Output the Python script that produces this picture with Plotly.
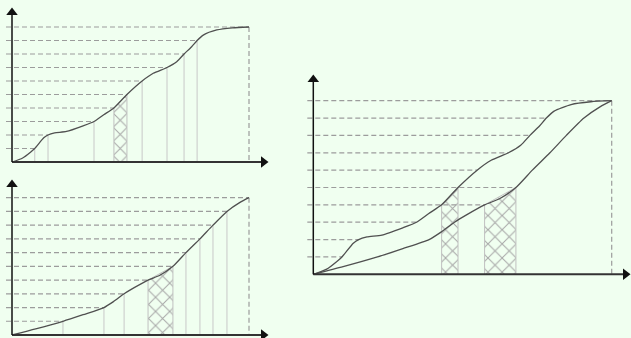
import plotly.graph_objects as go

# ---------------- data ----------------
levels = [0.1, 0.2, 0.3, 0.4, 0.5, 0.6, 0.7, 0.8, 0.9, 1.0]

# distribution A (top-left panel, upper curve on the right panel)
curve_a_x = [0, 4.5, 7.8, 9.6, 13.4, 15.2, 18, 23, 30, 34.6, 38.7, 43, 48.5, 54.9,
             59.6, 65.4, 69.5, 72.6, 75.8, 78.1, 80.7, 86.4, 93, 100]
curve_a_y = [0, 0.03, 0.073, 0.1, 0.179, 0.2, 0.215, 0.226, 0.268, 0.3, 0.35, 0.4, 0.5, 0.6,
             0.657, 0.7, 0.743, 0.8, 0.854, 0.9, 0.94, 0.978, 0.994, 1.0]
quant_a = [9.6, 15.2, 34.6, 43.0, 48.5, 54.9, 65.4, 72.6, 78.1, 100]

# distribution B (bottom-left panel, lower curve on the right panel)
curve_b_x = [0, 10, 21.5, 30, 38.8, 42.8, 47.3, 51.2, 57.4, 62.4, 67.9, 73.4, 79.3,
             84.8, 90.7, 96.2, 100]
curve_b_y = [0, 0.044, 0.1, 0.148, 0.2, 0.243, 0.3, 0.341, 0.4, 0.435, 0.5, 0.6, 0.7,
             0.8, 0.9, 0.966, 1.0]
quant_b = [21.5, 38.8, 47.3, 57.4, 67.9, 73.4, 79.3, 84.8, 90.7, 100]

hatch_levels = (0.4, 0.5)

# ---------------- layout geometry (pixels) ----------------
W, H = 631, 338
BG = "#f0fff0"
CURVE = "#505050"
DASH = "#9c9c9c"
VLINE = "#c8c8c8"
HATCH = "#a8a8a8"

panels = {
    # dom x px, dom y px (top,bottom), origin px, px per unit, arrow tips px
    "1": dict(dx=(0, 285), dy=(0, 170), ox=12, oy=162, sx=2.37, sy=135.0, tipx=268, tipy=8),
    "2": dict(dx=(0, 285), dy=(170, 338), ox=12, oy=335, sx=2.37, sy=137.3, tipx=268, tipy=180),
    "3": dict(dx=(290, 631), dy=(60, 290), ox=313.3, oy=274.3, sx=2.984, sy=173.6, tipx=630, tipy=75),
}

fig = go.Figure()
layout_axes = {}
for key, p in panels.items():
    xa = "xaxis" if key == "1" else "xaxis" + key
    ya = "yaxis" if key == "1" else "yaxis" + key
    layout_axes[xa] = dict(
        domain=[p["dx"][0] / W, p["dx"][1] / W],
        range=[(p["dx"][0] - p["ox"]) / p["sx"], (p["dx"][1] - p["ox"]) / p["sx"]],
        visible=False, fixedrange=True, anchor="y" if key == "1" else "y" + key,
    )
    layout_axes[ya] = dict(
        domain=[1 - p["dy"][1] / H, 1 - p["dy"][0] / H],
        range=[(p["oy"] - p["dy"][1]) / p["sy"], (p["oy"] - p["dy"][0]) / p["sy"]],
        visible=False, fixedrange=True, anchor="x" if key == "1" else "x" + key,
    )


def refs(key):
    return ("x", "y") if key == "1" else ("x" + key, "y" + key)


def add_hatch(key, qa, qb, la, lb):
    xr, yr = refs(key)
    fig.add_trace(go.Scatter(
        x=[qa, qa, qb, qb, qa], y=[0, la, lb, 0, 0], xaxis=xr, yaxis=yr,
        mode="lines", fill="toself", fillcolor="rgba(0,0,0,0)",
        fillpattern=dict(shape="x", size=10, solidity=0.2, fgcolor=HATCH,
                         bgcolor="rgba(0,0,0,0)", fgopacity=1),
        line=dict(color="#c0c0c0", width=1), hoverinfo="skip", showlegend=False))


def add_vlines(key, quants):
    xr, yr = refs(key)
    xs, ys = [], []
    for q, l in zip(quants, levels):
        if l in hatch_levels or l == levels[-1]:
            continue
        xs += [q, q, None]
        ys += [0, l, None]
    fig.add_trace(go.Scatter(x=xs, y=ys, xaxis=xr, yaxis=yr, mode="lines",
                             line=dict(color=VLINE, width=1), hoverinfo="skip", showlegend=False))


def add_dashes(key, ends):
    xr, yr = refs(key)
    p = panels[key]
    start = -6.0 / p["sx"]
    xs, ys = [], []
    for e, l in zip(ends, levels):
        xs += [start, e, None]
        ys += [l, l, None]
    xs += [ends[-1], ends[-1], None]
    ys += [levels[-1], 0, None]
    fig.add_trace(go.Scatter(x=xs, y=ys, xaxis=xr, yaxis=yr, mode="lines",
                             line=dict(color=DASH, width=1.2, dash="5px,3px"),
                             hoverinfo="skip", showlegend=False))


def add_curve(key, cx, cy):
    xr, yr = refs(key)
    fig.add_trace(go.Scatter(x=cx, y=cy, xaxis=xr, yaxis=yr, mode="lines",
                             line=dict(color=CURVE, width=1.3, shape="spline", smoothing=0.6),
                             hoverinfo="skip", showlegend=False))


def add_axes(key):
    xr, yr = refs(key)
    p = panels[key]
    xt = (p["tipx"] - 4.5 - p["ox"]) / p["sx"]
    yt = (p["oy"] - (p["tipy"] + 4.5)) / p["sy"]
    fig.add_trace(go.Scatter(x=[0, xt], y=[0, 0], xaxis=xr, yaxis=yr, mode="lines",
                             line=dict(color="#333333", width=2), hoverinfo="skip", showlegend=False))
    fig.add_trace(go.Scatter(x=[0, 0], y=[0, yt], xaxis=xr, yaxis=yr, mode="lines",
                             line=dict(color="#111111", width=1.5), hoverinfo="skip", showlegend=False))
    fig.add_trace(go.Scatter(x=[xt], y=[0], xaxis=xr, yaxis=yr, mode="markers",
                             marker=dict(symbol="triangle-right", size=10, color="#111111",
                                         line=dict(width=0)),
                             hoverinfo="skip", showlegend=False))
    fig.add_trace(go.Scatter(x=[0], y=[yt], xaxis=xr, yaxis=yr, mode="markers",
                             marker=dict(symbol="triangle-up", size=10, color="#111111",
                                         line=dict(width=0)),
                             hoverinfo="skip", showlegend=False))


i4, i5 = levels.index(0.4), levels.index(0.5)

# panel 1: distribution A
add_hatch("1", quant_a[i4], quant_a[i5], 0.4, 0.5)
add_vlines("1", quant_a)
add_dashes("1", quant_a)
add_curve("1", curve_a_x, curve_a_y)
add_axes("1")

# panel 2: distribution B
add_hatch("2", quant_b[i4], quant_b[i5], 0.4, 0.5)
add_vlines("2", quant_b)
add_dashes("2", quant_b)
add_curve("2", curve_b_x, curve_b_y)
add_axes("2")

# panel 3: both
add_hatch("3", quant_a[i4], quant_a[i5], 0.4, 0.5)
add_hatch("3", quant_b[i4], quant_b[i5], 0.4, 0.5)
ends3 = [quant_b[i] if l in hatch_levels else quant_a[i] for i, l in enumerate(levels)]
add_dashes("3", ends3)
add_curve("3", curve_a_x, curve_a_y)
add_curve("3", curve_b_x, curve_b_y)
add_axes("3")

fig.update_layout(
    width=W, height=H, margin=dict(l=0, r=0, t=0, b=0),
    paper_bgcolor=BG, plot_bgcolor=BG, showlegend=False,
    **layout_axes,
)

fig.write_html(
    "out.html",
    config={"displayModeBar": False},
    post_script="document.body.style.margin='0';document.body.style.background='" + BG + "';",
)
